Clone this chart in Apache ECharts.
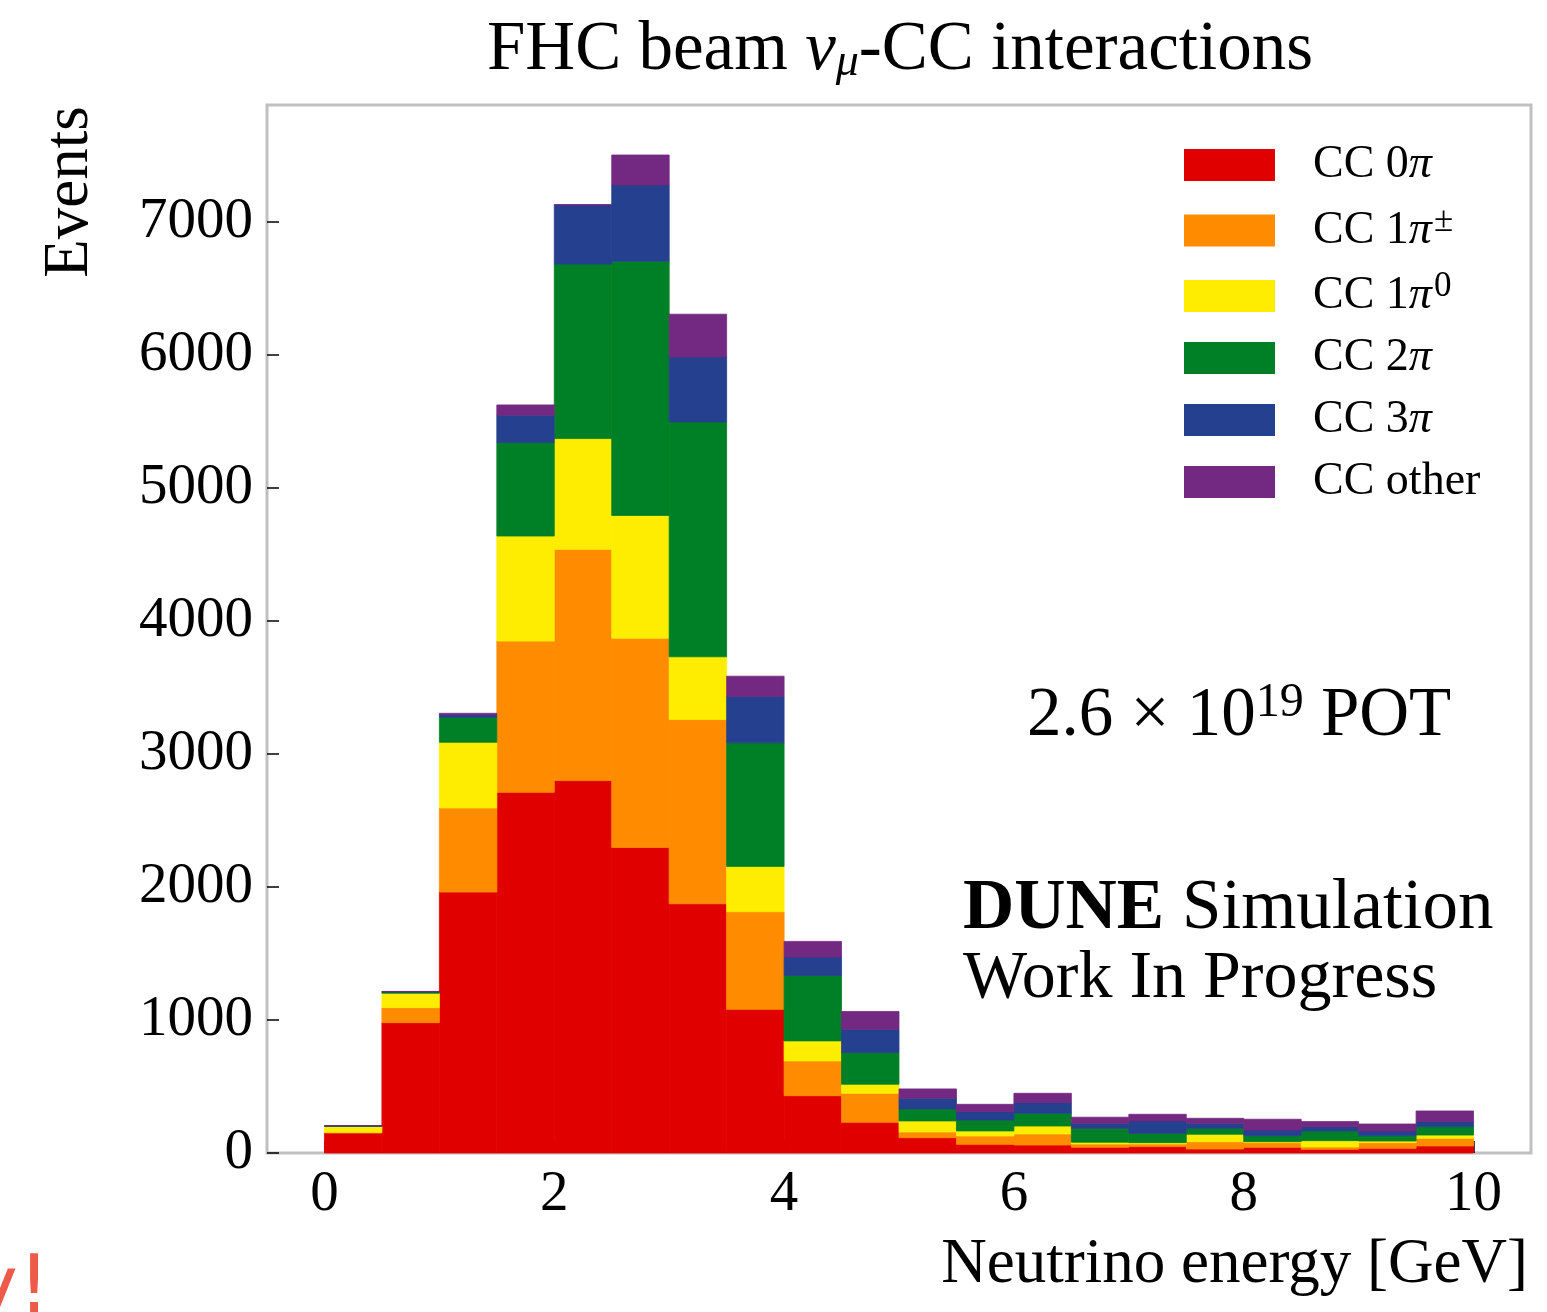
<!DOCTYPE html>
<html>
<head>
<meta charset="utf-8">
<script src="https://cdn.jsdelivr.net/npm/echarts@6/dist/echarts.min.js"></script>
<style>
  html, body { margin: 0; padding: 0; background: #fff; }
  #chart { width: 1547px; height: 1312px; }
</style>
</head>
<body>
<div id="chart"></div>
<script>
// Energy bins: lower edges [GeV], each 0.5 GeV wide
const binLow = [0, 0.5, 1, 1.5, 2, 2.5, 3, 3.5, 4, 4.5, 5, 5.5, 6, 6.5, 7, 7.5, 8, 8.5, 9, 9.5];
const binWidth = 0.5;

// Event counts per bin for each interaction topology (stacked bottom to top)
const cc0pi    = [150, 980, 1962, 2712, 2800, 2298, 1874, 1080, 431, 231, 115, 65, 60, 43, 48, 30, 43, 28, 35, 53];
const cc1piPM  = [5, 113, 632, 1137, 1739, 1573, 1385, 734, 261, 218, 43, 63, 83, 25, 20, 55, 35, 17, 43, 57];
const cc1pi0   = [45, 108, 494, 790, 833, 923, 472, 341, 151, 68, 83, 38, 60, 13, 10, 56, 7, 48, 12, 25];
const cc2pi    = [3, 10, 188, 703, 1312, 1912, 1766, 929, 492, 238, 90, 82, 96, 105, 70, 45, 45, 73, 40, 63];
const cc3pi    = [2, 2, 20, 205, 444, 572, 489, 350, 138, 176, 81, 63, 80, 38, 93, 38, 43, 32, 36, 38];
const ccOther  = [0, 2, 10, 78, 3, 226, 321, 151, 118, 133, 70, 55, 70, 45, 50, 37, 81, 38, 52, 80];

// Axis tick values
const xTicks = [0, 2, 4, 6, 8, 10];
const yTicks = [0, 1000, 2000, 3000, 4000, 5000, 6000, 7000];

const FONT = '"Liberation Serif", "DejaVu Serif", serif';

const components = [
  { name: 'CC 0π',    label: '{t|CC 0}{i|π}',         color: '#E10000', values: cc0pi },
  { name: 'CC 1π±',   label: '{t|CC 1}{i|π}{sup|±}',  color: '#FF8C00', values: cc1piPM },
  { name: 'CC 1π0',   label: '{t|CC 1}{i|π}{sup|0}',  color: '#FFED00', values: cc1pi0 },
  { name: 'CC 2π',    label: '{t|CC 2}{i|π}',         color: '#008026', values: cc2pi },
  { name: 'CC 3π',    label: '{t|CC 3}{i|π}',         color: '#24408E', values: cc3pi },
  { name: 'CC other', label: '{t|CC other}',          color: '#732982', values: ccOther }
];

// Build stacked [x0, x1, base, top] rows for every component
const running = binLow.map(() => 0);
const series = components.map(comp => {
  const data = binLow.map((x0, i) => {
    const base = running[i];
    const top = base + comp.values[i];
    running[i] = top;
    return [x0, x0 + binWidth, base, top];
  });
  return {
    name: comp.name,
    type: 'custom',
    itemStyle: { color: comp.color },
    encode: { x: [0, 1], y: [2, 3] },
    renderItem: function (params, api) {
      const p0 = api.coord([api.value(0), api.value(3)]);
      const p1 = api.coord([api.value(1), api.value(2)]);
      const c = api.visual('color');
      return {
        type: 'rect',
        shape: { x: p0[0], y: p0[1], width: p1[0] - p0[0], height: p1[1] - p0[1] },
        style: { fill: c, stroke: c, lineWidth: 0.8 }
      };
    },
    data: data
  };
});

const labelByName = {};
components.forEach(c => { labelByName[c.name] = c.label; });

const chart = echarts.init(document.getElementById('chart'), null, { renderer: 'canvas' });
chart.setOption({
  backgroundColor: '#ffffff',
  animation: false,
  grid: {
    left: 267, right: 16, top: 105, bottom: 159,
    show: true, borderColor: '#c0c0c0', borderWidth: 3, backgroundColor: 'transparent'
  },
  legend: {
    orient: 'vertical',
    left: 1184, top: 142, padding: 0,
    itemWidth: 91, itemHeight: 32, itemGap: 16,
    icon: 'rect',
    data: components.map(c => c.name),
    formatter: name => labelByName[name],
    textStyle: {
      rich: {
        t: { fontFamily: FONT, fontSize: 46, color: '#000', padding: [0, 0, 0, 33] },
        i: { fontFamily: FONT, fontSize: 46, fontStyle: 'italic', color: '#000' },
        sup: { fontFamily: FONT, fontSize: 35, color: '#000', verticalAlign: 'top', padding: [0, 0, 18, 2] }
      }
    }
  },
  xAxis: {
    type: 'value',
    min: -0.5, max: 10.5,
    axisLine: { show: false, onZero: false },
    splitLine: { show: false },
    axisTick: { show: true, inside: true, length: 12, lineStyle: { color: '#000', width: 1.5 }, customValues: xTicks },
    axisLabel: { fontFamily: FONT, fontSize: 57, color: '#000', margin: 14, customValues: xTicks, formatter: v => String(v) }
  },
  yAxis: {
    type: 'value',
    min: 0, max: 7880,
    axisLine: { show: false, onZero: false },
    splitLine: { show: false },
    axisTick: { show: true, inside: true, length: 12, lineStyle: { color: '#000', width: 1.5 }, customValues: yTicks },
    axisLabel: { fontFamily: FONT, fontSize: 57, color: '#000', margin: 14, customValues: yTicks, formatter: v => String(v) }
  },
  graphic: [
    {
      type: 'text', x: 900, y: 86,
      style: {
        text: '{t|FHC beam }{i|ν}{sub|μ}{t|-CC interactions}',
        align: 'center', verticalAlign: 'bottom',
        rich: {
          t: { fontFamily: FONT, fontSize: 69, fontWeight: 'normal', color: '#000' },
          i: { fontFamily: FONT, fontSize: 69, fontStyle: 'italic', fontWeight: 'normal', color: '#000' },
          sub: { fontFamily: FONT, fontSize: 46, fontStyle: 'italic', fontWeight: 'normal', color: '#000', verticalAlign: 'bottom', padding: [24, 0, 0, 0] }
        }
      }
    },
    {
      type: 'text', x: 70, y: 192, rotation: Math.PI / 2,
      style: { text: 'Events', font: '63px ' + FONT, fill: '#000', align: 'center', verticalAlign: 'middle' }
    },
    {
      type: 'text', x: 1528, y: 1297,
      style: { text: 'Neutrino energy [GeV]', font: '63px ' + FONT, fill: '#000', align: 'right', verticalAlign: 'bottom' }
    },
    {
      type: 'text', x: 1027, y: 755,
      style: {
        text: '{t|2.6 × 10}{sup|19}{t| POT}',
        fill: '#000', align: 'left', verticalAlign: 'bottom',
        rich: {
          t: { fontFamily: FONT, fontSize: 69, color: '#000' },
          sup: { fontFamily: FONT, fontSize: 48, color: '#000', verticalAlign: 'top', padding: [0, 0, 28, 0] }
        }
      }
    },
    {
      type: 'text', x: 963, y: 945,
      style: {
        text: '{b|DUNE}{t| Simulation}',
        fill: '#000', align: 'left', verticalAlign: 'bottom',
        rich: {
          b: { fontFamily: FONT, fontSize: 71, fontWeight: 'bold', color: '#000' },
          t: { fontFamily: FONT, fontSize: 71, color: '#000' }
        }
      }
    },
    {
      type: 'text', x: 963, y: 1013,
      style: { text: 'Work In Progress', font: '68px ' + FONT, fill: '#000', align: 'left', verticalAlign: 'bottom' }
    },
    {
      type: 'text', x: 50, y: 1331,
      style: { text: 'y!', font: '80px "DejaVu Sans", sans-serif', fill: '#EE5A4A', align: 'right', verticalAlign: 'bottom' }
    }
  ],
  series: series
});
</script>
</body>
</html>
